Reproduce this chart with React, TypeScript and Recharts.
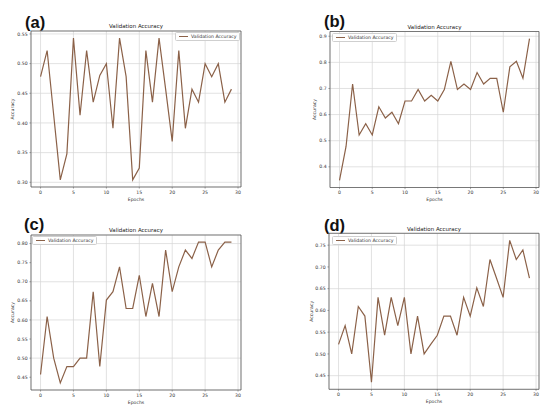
import { LineChart, Line, XAxis, YAxis, CartesianGrid, ReferenceArea, Legend } from 'recharts'

const epochs = [0, 1, 2, 3, 4, 5, 6, 7, 8, 9, 10, 11, 12, 13, 14, 15, 16, 17, 18, 19, 20, 21, 22, 23, 24, 25, 26, 27, 28, 29]
const xTicks = [0, 5, 10, 15, 20, 25, 30]

const accA = [0.478, 0.522, 0.413, 0.304, 0.348, 0.543, 0.413, 0.522, 0.435, 0.48, 0.5, 0.391, 0.543, 0.478, 0.304, 0.324, 0.522, 0.435, 0.543, 0.457, 0.369, 0.522, 0.391, 0.457, 0.435, 0.5, 0.478, 0.5, 0.435, 0.457]
const accB = [0.348, 0.478, 0.717, 0.522, 0.565, 0.522, 0.63, 0.587, 0.609, 0.565, 0.652, 0.652, 0.696, 0.652, 0.674, 0.652, 0.696, 0.804, 0.696, 0.717, 0.696, 0.761, 0.717, 0.739, 0.739, 0.609, 0.783, 0.804, 0.739, 0.891]
const accC = [0.457, 0.609, 0.5, 0.435, 0.478, 0.478, 0.5, 0.5, 0.674, 0.478, 0.652, 0.674, 0.739, 0.63, 0.63, 0.717, 0.609, 0.696, 0.609, 0.783, 0.674, 0.739, 0.783, 0.761, 0.804, 0.804, 0.739, 0.783, 0.804, 0.804]
const accD = [0.522, 0.565, 0.5, 0.609, 0.587, 0.435, 0.63, 0.543, 0.63, 0.565, 0.63, 0.5, 0.587, 0.5, 0.522, 0.543, 0.587, 0.587, 0.543, 0.63, 0.587, 0.652, 0.609, 0.717, 0.674, 0.63, 0.761, 0.717, 0.739, 0.674]

const ticksA = [0.3, 0.35, 0.4, 0.45, 0.5, 0.55]
const ticksB = [0.4, 0.5, 0.6, 0.7, 0.8, 0.9]
const ticksC = [0.45, 0.5, 0.55, 0.6, 0.65, 0.7, 0.75, 0.8]
const ticksD = [0.45, 0.5, 0.55, 0.6, 0.65, 0.7, 0.75]

const LINE = '#8b6148'
const FONT = '"DejaVu Sans", sans-serif'
const W = 275
const H = 207
const YW = 20
const XH = 20

// matplotlib style 5% autoscale margin
const pad = (vals: number[]): [number, number] => {
  const lo = Math.min(...vals)
  const hi = Math.max(...vals)
  const m = (hi - lo) * 0.05
  return [lo - m, hi + m]
}

const LegendBox = () => (
  <div style={{
    display: 'inline-flex', alignItems: 'center', height: 9, padding: '0 2.5px',
    border: '0.6px solid #cfcfcf', borderRadius: 1.5, background: 'rgba(255,255,255,0.85)',
    fontFamily: FONT, fontSize: 4.65, color: '#333', whiteSpace: 'nowrap', boxSizing: 'border-box',
  }}>
    <span style={{ display: 'inline-block', width: 9, borderTop: `1.2px solid ${LINE}`, marginRight: 3.5 }} />
    Validation Accuracy
  </div>
)

type PanelProps = {
  tag: string
  x: number
  y: number
  values: number[]
  yTicks: number[]
  digits: number
  plot: { l: number; r: number; t: number; b: number }
  tagLeft: number
  tagCy: number
  titleCy: number
  yLabelX: number
  legend: { left: number; top: number }
}

function Panel(p: PanelProps) {
  const data = epochs.map((e, i) => ({ epoch: e, acc: p.values[i] }))
  const [lo, hi] = pad(p.values)
  const xDom: [number, number] = [-1.45, 30.45]
  return (
    <div style={{ position: 'absolute', left: p.x, top: p.y, width: W, height: H }}>
      <div style={{
        position: 'absolute', left: p.tagLeft, top: p.tagCy - 8.5, height: 17, lineHeight: '17px',
        fontFamily: '"Liberation Sans", Arial, sans-serif', fontWeight: 'bold', fontSize: 16.5, color: '#111',
      }}>{p.tag}</div>
      <div style={{
        position: 'absolute', left: p.plot.l, width: p.plot.r - p.plot.l, top: p.titleCy - 4, height: 8,
        lineHeight: '8px', textAlign: 'center', fontFamily: FONT, fontSize: 5.5, color: '#222',
      }}>Validation Accuracy</div>
      <LineChart
        width={W}
        height={H}
        data={data}
        margin={{ top: p.plot.t, right: W - p.plot.r, bottom: H - p.plot.b - XH, left: p.plot.l - YW }}
      >
        <CartesianGrid stroke="#d6d6d6" strokeWidth={0.7} />
        <XAxis
          dataKey="epoch"
          type="number"
          domain={xDom}
          ticks={xTicks}
          allowDataOverflow
          height={XH}
          axisLine={false}
          tickSize={1.6}
          tickMargin={1.8}
          tickLine={{ stroke: '#555', strokeWidth: 0.5 }}
          tick={{ fill: '#333', fontSize: 4.6, fontFamily: FONT }}
          label={{ value: 'Epochs', position: 'insideBottom', offset: 6.3, fill: '#333', fontSize: 4.6, fontFamily: FONT }}
        />
        <YAxis
          type="number"
          domain={[lo, hi]}
          ticks={p.yTicks}
          allowDataOverflow
          width={YW}
          axisLine={false}
          tickSize={1.6}
          tickMargin={1.8}
          tickLine={{ stroke: '#555', strokeWidth: 0.5 }}
          tickFormatter={(v: number) => v.toFixed(p.digits)}
          tick={{ fill: '#333', fontSize: 4.6, fontFamily: FONT }}
          label={{
            value: 'Accuracy', angle: -90, position: 'insideLeft', offset: p.yLabelX - (p.plot.l - YW),
            fill: '#333', fontSize: 4.6, fontFamily: FONT, style: { textAnchor: 'middle' },
          }}
        />
        <ReferenceArea x1={xDom[0]} x2={xDom[1]} y1={lo} y2={hi} fill="none" stroke="#4a4a4a" strokeWidth={0.7} ifOverflow="visible" />
        <Legend
          layout="horizontal"
          verticalAlign="middle"
          align="center"
          content={() => <LegendBox />}
          wrapperStyle={{ left: p.legend.left, top: p.legend.top, width: 'auto', height: 'auto', lineHeight: 0 }}
        />
        <Line
          type="linear"
          dataKey="acc"
          name="Validation Accuracy"
          stroke={LINE}
          strokeWidth={1.2}
          dot={false}
          isAnimationActive={false}
        />
      </LineChart>
    </div>
  )
}

export default function App() {
  return (
    <div style={{ position: 'relative', width: 550, height: 414, background: '#fff', overflow: 'hidden' }}>
      <style>{'body{margin:0}'}</style>
      <Panel tag="(a)" x={0} y={0} values={accA} yTicks={ticksA} digits={2}
        plot={{ l: 31, r: 241, t: 31, b: 187 }} tagLeft={25} tagCy={22} titleCy={26} yLabelX={12.7}
        legend={{ left: 175, top: 32.3 }} />
      <Panel tag="(b)" x={275} y={0} values={accB} yTicks={ticksB} digits={1}
        plot={{ l: 55, r: 264, t: 31.5, b: 187.5 }} tagLeft={49} tagCy={21.7} titleCy={26.7} yLabelX={39.3}
        legend={{ left: 57, top: 33 }} />
      <Panel tag="(c)" x={0} y={207} values={accC} yTicks={ticksC} digits={2}
        plot={{ l: 31, r: 241, t: 28, b: 183 }} tagLeft={24} tagCy={17.3} titleCy={22.7} yLabelX={12.7}
        legend={{ left: 32, top: 29 }} />
      <Panel tag="(d)" x={275} y={207} values={accD} yTicks={ticksD} digits={2}
        plot={{ l: 54, r: 264, t: 26.3, b: 182.3 }} tagLeft={49} tagCy={18.3} titleCy={22} yLabelX={36.7}
        legend={{ left: 57, top: 29 }} />
    </div>
  )
}
